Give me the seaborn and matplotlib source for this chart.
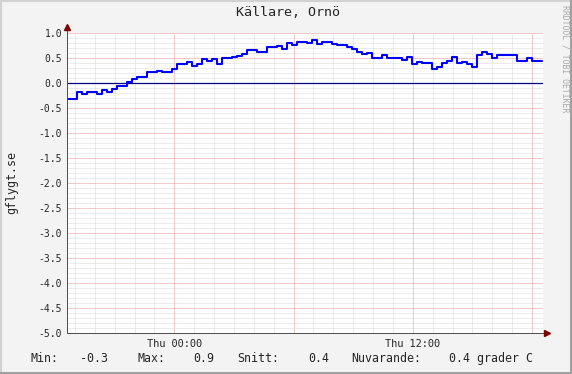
import numpy as np
import pandas as pd
import matplotlib
matplotlib.use("Agg")
import matplotlib.pyplot as plt
from matplotlib.lines import Line2D
import seaborn as sns

# cellar temperature (grader C), one reading per step
temps = [
    -0.32, -0.32, -0.18, -0.21, -0.17, -0.17, -0.21, -0.14, -0.17, -0.11,
    -0.05, -0.05, 0.03, 0.08, 0.13, 0.13, 0.23, 0.23, 0.25, 0.23,
    0.23, 0.29, 0.38, 0.38, 0.43, 0.34, 0.39, 0.49, 0.45, 0.49,
    0.39, 0.50, 0.50, 0.52, 0.55, 0.59, 0.66, 0.67, 0.63, 0.63,
    0.73, 0.73, 0.74, 0.69, 0.80, 0.76, 0.83, 0.83, 0.80, 0.86,
    0.78, 0.82, 0.82, 0.78, 0.76, 0.76, 0.73, 0.68, 0.63, 0.58,
    0.60, 0.51, 0.51, 0.56, 0.50, 0.51, 0.51, 0.46, 0.53, 0.39,
    0.42, 0.40, 0.40, 0.29, 0.33, 0.40, 0.45, 0.52, 0.40, 0.42,
    0.38, 0.33, 0.56, 0.62, 0.58, 0.50, 0.56, 0.56, 0.56, 0.56,
    0.45, 0.45, 0.50, 0.45, 0.44, 0.45,
]
start_hour = -5.38      # hours relative to Thu 00:00
step_hours = 0.2515

major_hours = [0, 6, 12, 18]
major_labels = ["Thu 00:00", "", "Thu 12:00", ""]
minor_hours = list(range(-5, 19))

stat_names = ["Min:", "Max:", "Snitt:", "Nuvarande:"]
stat_values = ["-0.3", "0.9", "0.4", "0.4 grader C"]

W, H = 572, 374
BG = "#f3f3f3"
MONO = "DejaVu Sans Mono"


def px(x, y):
    return x / W, 1 - y / H


sns.set_style("white")
plt.rcParams["font.family"] = [MONO]

df = pd.DataFrame({
    "hour": start_hour + step_hours * np.arange(len(temps)),
    "temp": temps,
})

fig = plt.figure(figsize=(W / 100, H / 100), dpi=100, facecolor=BG)
ax = fig.add_axes([67 / W, 41 / H, 476 / W, 300 / H])
ax.set_facecolor("white")

# grid: minor grey dots, major red dots
dots = (0, (1, 1))
grid_kw = dict(lw=0.72, ls=dots, snap=True)
for h in minor_hours:
    ax.axvline(h, color="#d8d8d8", zorder=0, **grid_kw)
for v in np.arange(-5, 1.01, 0.1):
    ax.axhline(v, color="#d8d8d8", zorder=0, **grid_kw)
for h in major_hours:
    ax.axvline(h, color="#f2aaaa", zorder=1, **grid_kw)
for v in np.arange(-5, 1.01, 0.5):
    ax.axhline(v, color="#f2aaaa", zorder=1, **grid_kw)

ax.axhline(0, color="#000080", lw=0.9, zorder=2)

sns.lineplot(data=df, x="hour", y="temp", drawstyle="steps-post",
             color="#0000ff", linewidth=1.5, ax=ax, zorder=3)

ax.set_xlim(-5.4, 18.55)
ax.set_ylim(-5, 1)
ax.set_xlabel("")
ax.set_ylabel("")

ax.set_yticks(np.arange(-5, 1.01, 0.5))
ax.set_yticklabels([f"{v:.1f}" for v in np.arange(-5, 1.01, 0.5)])
ax.set_xticks(major_hours, labels=major_labels)
ax.tick_params(axis="both", direction="inout", length=3, width=0.72,
               color="#505050", labelsize=7, pad=2)
ax.tick_params(axis="x", labelsize=7.4, pad=3)

for s in ax.spines.values():
    s.set_visible(False)

# axes with arrow heads
axis_col = "#505050"
ax.plot([0, 0], [0, 1.017], transform=ax.transAxes, color=axis_col,
        lw=0.72, clip_on=False, zorder=4)
ax.plot([0, 1.006], [0, 0], transform=ax.transAxes, color=axis_col,
        lw=0.72, clip_on=False, zorder=4)
ax.plot([0], [1.02], transform=ax.transAxes, marker="^", ms=4,
        color="#7f0000", clip_on=False, zorder=5)
ax.plot([1.009], [0], transform=ax.transAxes, marker=">", ms=4,
        color="#7f0000", clip_on=False, zorder=5)

# texts
fig.text(*px(288, 13), "Källare, Ornö", ha="center", va="center",
         fontsize=9.6, family=MONO)
fig.text(*px(12, 183), "gflygt.se", rotation=90, ha="center", va="center",
         fontsize=8.4, family=MONO)
fig.text(*px(565, 5), "RRDTOOL / TOBI OETIKER", rotation=270, ha="center",
         va="top", fontsize=5.9, family=MONO, color="#a8a8a8")

name_x = [31, 138, 237, 351]
value_x = [80, 193, 308, 449]
for nx, name, vx, val in zip(name_x, stat_names, value_x, stat_values):
    fig.text(*px(nx, 358.5), name, ha="left", va="center", fontsize=8.4,
             family=MONO)
    fig.text(*px(vx, 358.5), val, ha="left", va="center", fontsize=8.4,
             family=MONO)

# 3d style frame
fig.add_artist(Line2D([0, 1], [1 - 1 / H, 1 - 1 / H], color="#d2d2d2", lw=1.5))
fig.add_artist(Line2D([1 / W, 1 / W], [0, 1], color="#d2d2d2", lw=1.5))
fig.add_artist(Line2D([0, 1], [1.5 / H, 1.5 / H], color="#a0a0a0", lw=2.2))
fig.add_artist(Line2D([1 - 1.5 / W, 1 - 1.5 / W], [0, 1], color="#a0a0a0", lw=2.2))

fig.savefig("out.png", dpi=100, facecolor=BG)
plt.close(fig)
